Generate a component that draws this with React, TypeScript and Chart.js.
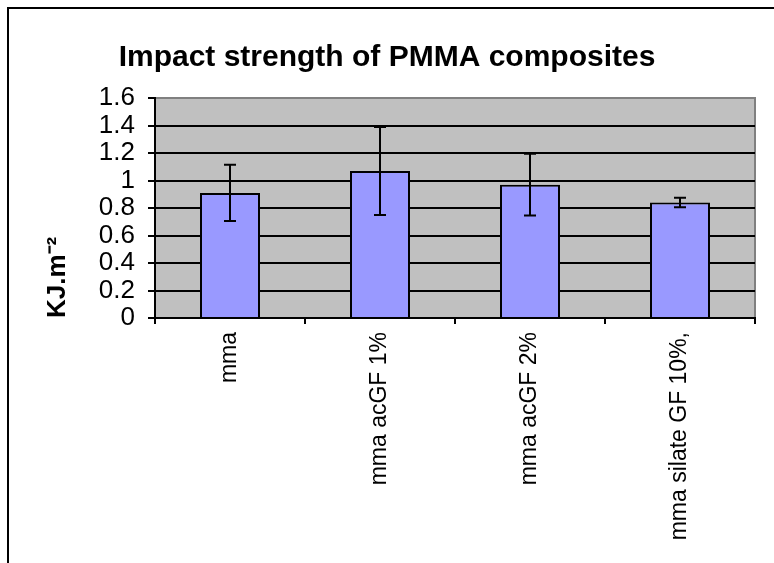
import { useEffect, useRef } from "react";
import { Chart, registerables } from "chart.js";

Chart.register(...registerables);

const categories = ["mma", "mma acGF 1%", "mma acGF 2%", "mma silate GF 10%,"];
const meanValues = [0.91, 1.07, 0.97, 0.84];
const errorValues = [0.205, 0.32, 0.225, 0.035];
const yTickValues = [0, 0.2, 0.4, 0.6, 0.8, 1, 1.2, 1.4, 1.6];
const chartTitle = "Impact strength of PMMA composites";
const yAxisTitle = "KJ.m⁻²";

const FONT = '"Liberation Sans", Arial, sans-serif';

const plotBg = {
  id: "plotBg",
  beforeDraw(chart: any) {
    const { ctx, chartArea: a } = chart;
    ctx.save();
    ctx.fillStyle = "#000";
    ctx.fillRect(7, 7, chart.width - 7, 2);
    ctx.fillRect(7, 7, 2, chart.height - 7);
    ctx.fillStyle = "#C0C0C0";
    ctx.fillRect(a.left, a.top, a.width, a.height);
    ctx.strokeStyle = "#808080";
    ctx.lineWidth = 2;
    ctx.strokeRect(a.left, a.top, a.width, a.height);
    ctx.restore();
  },
};

const errorBars = {
  id: "errorBars",
  afterDatasetsDraw(chart: any) {
    const { ctx } = chart;
    const xs = chart.scales.x;
    const ys = chart.scales.y;
    ctx.save();
    ctx.strokeStyle = "#000";
    ctx.lineWidth = 2;
    meanValues.forEach((v, i) => {
      const x = xs.getPixelForValue(i);
      const yt = ys.getPixelForValue(v + errorValues[i]);
      const yb = ys.getPixelForValue(v - errorValues[i]);
      const cap = 6;
      ctx.beginPath();
      ctx.moveTo(x, yt);
      ctx.lineTo(x, yb);
      ctx.moveTo(x - cap, yt);
      ctx.lineTo(x + cap, yt);
      ctx.moveTo(x - cap, yb);
      ctx.lineTo(x + cap, yb);
      ctx.stroke();
    });
    ctx.restore();
  },
};

export default function App() {
  const ref = useRef<HTMLCanvasElement>(null);
  useEffect(() => {
    if (!ref.current) return;
    const chart = new Chart(ref.current, {
      type: "bar",
      data: {
        labels: categories,
        datasets: [
          {
            data: meanValues,
            backgroundColor: "#9999FF",
            borderColor: "#000",
            borderWidth: 2,
            barPercentage: 0.4,
            categoryPercentage: 1,
          },
        ],
      },
      options: {
        animation: false,
        responsive: false,
        layout: { padding: { left: 0, top: 0, right: 0, bottom: 0 } },
        plugins: {
          legend: { display: false },
          tooltip: { enabled: false },
          title: {
            display: true,
            text: chartTitle,
            color: "#000",
            font: { family: FONT, size: 30, weight: "bold", lineHeight: 1.2 },
            padding: { top: 40, bottom: 22 },
          },
        },
        scales: {
          x: {
            afterFit(scale: any) {
              scale.height = 245;
            },
            grid: {
              offset: true,
              drawOnChartArea: false,
              color: "#000",
              lineWidth: 2,
              tickLength: 6,
            },
            border: { display: true, color: "#000", width: 2 },
            ticks: {
              color: "#000",
              font: { family: FONT, size: 23 },
              minRotation: 90,
              maxRotation: 90,
              autoSkip: false,
              padding: 8,
            },
          },
          y: {
            min: 0,
            max: 1.6,
            afterFit(scale: any) {
              scale.width = 155;
            },
            afterBuildTicks(scale: any) {
              scale.ticks = yTickValues.map((v) => ({ value: v }));
            },
            grid: {
              color: (c: any) => (c.tick && Math.abs(c.tick.value - 1.6) < 1e-6 ? "#808080" : "#000"),
              tickColor: "#000",
              lineWidth: 2,
              tickLength: 7,
            },
            border: { display: true, color: "#000", width: 2 },
            ticks: {
              color: "#000",
              font: { family: FONT, size: 26 },
              padding: 13,
              autoSkip: false,
              callback: (v: any) => String(Math.round(Number(v) * 10) / 10),
            },
            title: {
              display: true,
              text: yAxisTitle,
              color: "#000",
              align: "start",
              font: { family: FONT, size: 26, weight: "bold", lineHeight: 1.2 },
              padding: { top: 42, bottom: 0 },
            },
          },
          yRight: {
            position: "right",
            display: true,
            afterFit(scale: any) {
              scale.width = 19;
            },
            grid: { display: false, drawOnChartArea: false },
            border: { display: false },
            ticks: { display: false },
          },
        },
      },
      plugins: [plotBg, errorBars],
    } as any);
    return () => chart.destroy();
  }, []);
  return (
    <div style={{ position: "fixed", left: 0, top: 0, width: 774, height: 563, background: "#fff" }}>
      <canvas ref={ref} width={774} height={563} style={{ display: "block" }} />
    </div>
  );
}
